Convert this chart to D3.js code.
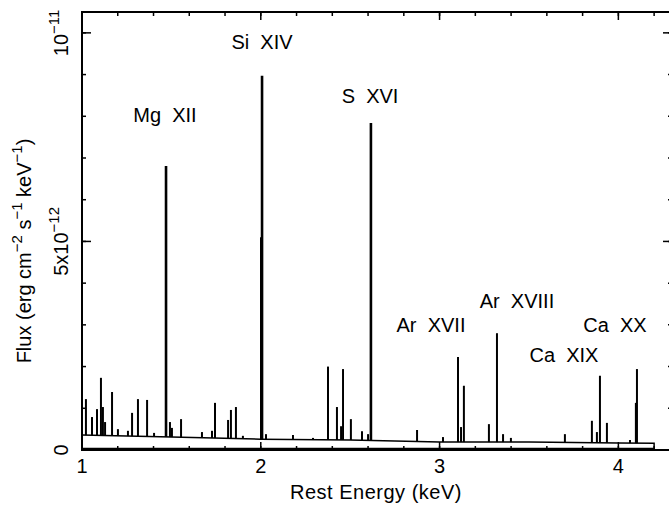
<!DOCTYPE html>
<html lang="en">
<head>
  <meta charset="utf-8">
  <title>Line spectrum</title>
  <script src="https://cdn.jsdelivr.net/npm/d3@7"></script>
  <style>
    body { margin: 0; background: #fff; }
    text { font-family: "Liberation Sans", Arial, sans-serif; fill: #000; white-space: pre; }
  </style>
</head>
<body>
  <svg class="chart" width="669" height="506"></svg>
  <script>
    var width = 669, height = 506;
    var plotLeft = 82, plotRight = 672, plotTop = 12, plotBottom = 450;

    // continuum (units of 1e-12 erg cm-2 s-1 keV-1)
    var contEnergy = [1.0, 1.5, 2.0, 2.5, 3.0, 3.5, 4.0, 4.2];
    var contFlux   = [0.36, 0.31, 0.26, 0.24, 0.19, 0.19, 0.17, 0.16];

    // emission lines: rest energy (keV) and peak flux (1e-12)
    var lineEnergy = [1.022, 1.056, 1.084, 1.106, 1.117, 1.129, 1.168, 1.201, 1.257, 1.280,
                      1.313, 1.364, 1.403, 1.470, 1.492, 1.503, 1.554, 1.671, 1.727, 1.744,
                      1.817, 1.833, 1.861, 1.900, 2.003, 2.007, 2.029, 2.180, 2.292, 2.376,
                      2.426, 2.449, 2.460, 2.504, 2.566, 2.600, 2.616, 2.874, 3.019, 3.103,
                      3.120, 3.136, 3.276, 3.321, 3.355, 3.399, 3.701, 3.852, 3.880, 3.897,
                      3.936, 4.065, 4.098, 4.104];
    var lineFlux   = [1.22, 0.79, 0.98, 1.73, 1.03, 0.67, 1.39, 0.50, 0.46, 0.89,
                      1.22, 1.20, 0.41, 6.81, 0.67, 0.53, 0.74, 0.43, 0.46, 1.13,
                      0.72, 0.96, 1.03, 0.34, 5.10, 8.97, 0.38, 0.36, 0.29, 2.00,
                      1.03, 0.57, 1.94, 0.74, 0.45, 0.38, 7.84, 0.48, 0.31, 2.23,
                      0.55, 1.54, 0.62, 2.80, 0.38, 0.29, 0.38, 0.70, 0.43, 1.78,
                      0.65, 0.24, 1.13, 1.94];

    var labelText   = ["Mg  XII", "Si  XIV", "S  XVI", "Ar  XVII", "Ar  XVIII", "Ca  XIX", "Ca  XX"];
    var labelEnergy = [1.464, 2.007, 2.611, 2.952, 3.433, 3.696, 3.981];
    var labelFlux   = [7.86, 9.62, 8.32, 2.83, 3.41, 2.11, 2.83];

    var xMajor = [1, 2, 3, 4];
    var xMinor = d3.range(1, 4.31, 0.2);
    var yMinor = d3.range(0, 10.5, 1);

    var x = d3.scaleLinear().domain([1, 4.3]).range([plotLeft, plotRight]);
    var y = d3.scaleLinear().domain([0, 10.5]).range([plotBottom, plotTop]);
    var cont = d3.scaleLinear().domain(contEnergy).range(contFlux).clamp(true);

    var svg = d3.select("svg.chart");

    // continuum
    var contPts = contEnergy.map(function(e, i) { return [e, contFlux[i]]; });
    contPts.push([4.2, 0]);
    svg.append("path")
       .datum(contPts)
       .attr("d", d3.line().x(function(d) { return x(d[0]); }).y(function(d) { return y(d[1]); }))
       .attr("fill", "none")
       .attr("stroke", "#000")
       .attr("stroke-width", 1.5);

    // lower edge of the spectrum
    svg.append("line")
       .attr("x1", x(1)).attr("x2", x(4.2))
       .attr("y1", y(0) - 1.5).attr("y2", y(0) - 1.5)
       .attr("stroke", "#000").attr("stroke-width", 1.5);

    // lines
    svg.append("g").selectAll("line")
       .data(lineEnergy)
       .join("line")
       .attr("x1", function(d) { return x(d); })
       .attr("x2", function(d) { return x(d); })
       .attr("y1", function(d) { return y(cont(d)); })
       .attr("y2", function(d, i) { return y(lineFlux[i]); })
       .attr("stroke", "#000")
       .attr("stroke-width", function(d, i) { return lineFlux[i] > 3 ? 2.6 : 2; });

    // frame
    svg.append("rect")
       .attr("x", plotLeft).attr("y", plotTop)
       .attr("width", plotRight - plotLeft).attr("height", plotBottom - plotTop)
       .attr("fill", "none").attr("stroke", "#000").attr("stroke-width", 2);

    // ticks (all pointing inward)
    function hTicks(vals, len) {
      svg.append("g").selectAll("line").data(vals).join("line")
         .attr("x1", function(d) { return x(d); }).attr("x2", function(d) { return x(d); })
         .attr("y1", plotBottom).attr("y2", plotBottom - len)
         .attr("stroke", "#000").attr("stroke-width", 1.5);
      svg.append("g").selectAll("line").data(vals).join("line")
         .attr("x1", function(d) { return x(d); }).attr("x2", function(d) { return x(d); })
         .attr("y1", plotTop).attr("y2", plotTop + len)
         .attr("stroke", "#000").attr("stroke-width", 1.5);
    }
    function vTicks(vals, len) {
      svg.append("g").selectAll("line").data(vals).join("line")
         .attr("y1", function(d) { return y(d); }).attr("y2", function(d) { return y(d); })
         .attr("x1", plotLeft).attr("x2", plotLeft + len)
         .attr("stroke", "#000").attr("stroke-width", 1.5);
      svg.append("g").selectAll("line").data(vals).join("line")
         .attr("y1", function(d) { return y(d); }).attr("y2", function(d) { return y(d); })
         .attr("x1", plotRight).attr("x2", plotRight - len)
         .attr("stroke", "#000").attr("stroke-width", 1.5);
    }
    hTicks(xMinor, 4);
    hTicks(xMajor, 8);
    vTicks(yMinor, 4);
    vTicks([0, 5, 10], 9);

    // x tick labels
    svg.append("g").selectAll("text").data(xMajor).join("text")
       .attr("x", function(d) { return x(d); })
       .attr("y", 473)
       .attr("text-anchor", "middle")
       .attr("font-size", 20)
       .text(function(d) { return d; });

    // y tick labels (rotated)
    function yLabel(v, base, exp) {
      var t = svg.append("text")
         .attr("transform", "translate(68," + y(v) + ") rotate(-90)")
         .attr("text-anchor", "middle")
         .attr("font-size", 20)
         .text(base);
      if (exp) {
        t.append("tspan").attr("font-size", 15).attr("dy", -9).text(exp);
      }
    }
    yLabel(0, "0");
    yLabel(5, "5x10", "\u221212");
    yLabel(10, "10", "\u221211");

    // axis titles
    svg.append("text")
       .attr("x", 376)
       .attr("y", 499)
       .attr("text-anchor", "middle")
       .attr("font-size", 20)
       .attr("letter-spacing", 0.5)
       .text("Rest Energy (keV)");

    var yt = svg.append("text")
       .attr("transform", "translate(31,251) rotate(-90)")
       .attr("text-anchor", "middle")
       .attr("font-size", 20);
    yt.append("tspan").text("Flux (erg cm");
    yt.append("tspan").attr("font-size", 15).attr("dy", -9).text("\u22122");
    yt.append("tspan").attr("dy", 9).text(" s");
    yt.append("tspan").attr("font-size", 15).attr("dy", -9).text("\u22121");
    yt.append("tspan").attr("dy", 9).text(" keV");
    yt.append("tspan").attr("font-size", 15).attr("dy", -9).text("\u22121");
    yt.append("tspan").attr("dy", 9).text(")");

    // line identifications
    svg.append("g").selectAll("text").data(labelText).join("text")
       .attr("x", function(d, i) { return x(labelEnergy[i]); })
       .attr("y", function(d, i) { return y(labelFlux[i]); })
       .attr("text-anchor", "middle")
       .attr("font-size", 20)
       .text(function(d) { return d; });
  </script>
</body>
</html>
